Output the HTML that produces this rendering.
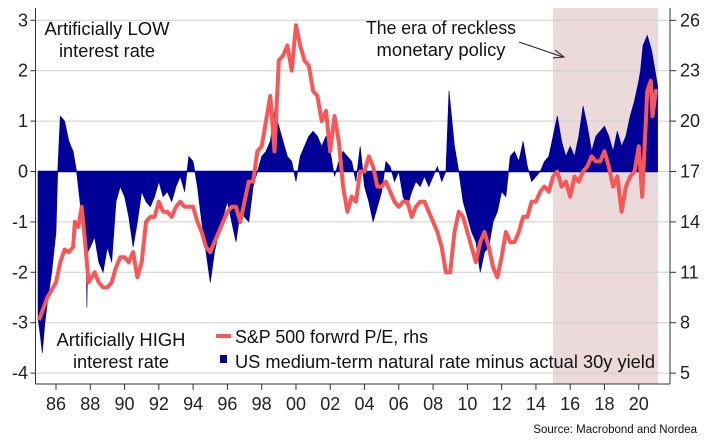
<!DOCTYPE html>
<html><head><meta charset="utf-8"><style>
body{margin:0;background:#fff;}
svg{display:block;font-family:"Liberation Sans",sans-serif;}
</style></head><body>
<svg id="chart" width="710" height="448" viewBox="0 0 710 448" xmlns="http://www.w3.org/2000/svg"></svg>
<script>
const gapYears=[1984.95,1985.1,1985.2,1985.35,1985.5,1985.75,1986.0,1986.1,1986.25,1986.5,1986.75,1987.0,1987.2,1987.5,1987.75,1987.8,1987.85,1988.0,1988.25,1988.5,1988.75,1989.0,1989.25,1989.5,1989.75,1990.0,1990.25,1990.5,1990.75,1991.0,1991.25,1991.5,1991.75,1992.0,1992.25,1992.5,1992.75,1993.0,1993.25,1993.5,1993.75,1994.0,1994.25,1994.5,1994.75,1995.0,1995.25,1995.5,1995.75,1996.0,1996.25,1996.5,1996.75,1997.0,1997.25,1997.5,1997.75,1998.0,1998.25,1998.5,1998.75,1999.0,1999.25,1999.5,1999.75,2000.0,2000.25,2000.5,2000.75,2001.0,2001.25,2001.5,2001.75,2002.0,2002.25,2002.5,2002.75,2003.0,2003.25,2003.5,2003.75,2004.0,2004.25,2004.5,2004.75,2005.0,2005.25,2005.5,2005.75,2006.0,2006.25,2006.5,2006.75,2007.0,2007.25,2007.5,2007.75,2008.0,2008.25,2008.5,2008.75,2008.93,2009.25,2009.5,2009.75,2010.0,2010.25,2010.5,2010.75,2011.0,2011.25,2011.5,2011.75,2012.0,2012.25,2012.5,2012.75,2013.0,2013.25,2013.5,2013.75,2014.0,2014.25,2014.5,2014.75,2015.0,2015.25,2015.5,2015.75,2016.0,2016.25,2016.5,2016.75,2017.0,2017.25,2017.5,2017.75,2018.0,2018.25,2018.5,2018.75,2019.0,2019.25,2019.5,2019.75,2020.0,2020.1,2020.25,2020.5,2020.75,2021.0,2021.1];
const gapValues=[-2.9,-3.3,-3.6,-3.0,-2.6,-2.0,-1.2,0,1.1,1.0,0.6,0.4,0,-0.9,-1.5,-2.7,-1.6,-1.5,-1.3,-1.8,-2.0,-1.5,-1.8,-0.6,-0.3,-0.5,-0.9,-1.5,-1.0,-0.4,-0.6,-0.7,-0.5,-0.2,-0.5,-0.4,-0.6,-0.3,-0.1,-0.4,0.3,0.2,-0.3,-1.0,-1.6,-2.2,-1.6,-1.2,-0.9,-0.6,-1.0,-1.4,-0.8,-0.9,-1.0,-0.3,0,0.3,0.4,0.6,1.2,0.9,0.6,0.3,0.2,-0.2,0.3,0.5,0.7,0.8,0.7,0.5,0.7,0.4,-0.1,0.2,0.4,0.3,0.2,-0.2,0.5,-0.3,-0.6,-1.0,-0.7,-0.4,0.2,0.1,-0.2,0.0,-0.5,-0.7,-0.4,-0.2,-0.3,-0.1,-0.3,-0.1,0.1,-0.2,0.0,1.6,0.5,0,-0.6,-0.9,-1.2,-1.4,-2.0,-1.6,-1.5,-1.0,-0.8,-0.4,-0.5,0.3,0.4,0.2,0.6,0.1,-0.2,-0.1,0.0,0.2,0.3,0.7,1.1,0.6,0.3,0.5,0.3,0.7,1.3,0.9,0.4,0.7,0.8,0.9,0.7,0.4,0.8,0.5,0.7,1.1,1.4,1.8,2.0,2.5,2.7,2.4,1.9,1.7];
const peYears=[1985.0,1985.5,1986.0,1986.25,1986.5,1986.75,1987.0,1987.1,1987.3,1987.5,1987.7,1987.9,1988.25,1988.5,1988.75,1989.0,1989.25,1989.5,1989.75,1990.0,1990.25,1990.5,1990.75,1991.0,1991.25,1991.5,1991.75,1992.0,1992.25,1992.5,1992.75,1993.0,1993.25,1993.5,1993.75,1994.0,1994.25,1994.5,1994.75,1995.0,1995.25,1995.5,1995.75,1996.0,1996.25,1996.5,1996.75,1997.0,1997.25,1997.5,1997.75,1998.0,1998.25,1998.5,1998.75,1999.0,1999.25,1999.5,1999.75,2000.0,2000.25,2000.5,2000.75,2001.0,2001.25,2001.5,2001.75,2002.0,2002.25,2002.5,2002.75,2003.0,2003.25,2003.5,2003.75,2004.0,2004.25,2004.5,2004.75,2005.0,2005.25,2005.5,2005.75,2006.0,2006.25,2006.5,2006.75,2007.0,2007.25,2007.5,2007.75,2008.0,2008.25,2008.5,2008.75,2009.0,2009.25,2009.5,2009.75,2010.0,2010.25,2010.5,2010.75,2011.0,2011.25,2011.5,2011.75,2012.0,2012.25,2012.5,2012.75,2013.0,2013.25,2013.5,2013.75,2014.0,2014.25,2014.5,2014.75,2015.0,2015.25,2015.5,2015.75,2016.0,2016.25,2016.5,2016.75,2017.0,2017.25,2017.5,2017.75,2018.0,2018.25,2018.5,2018.75,2019.0,2019.25,2019.5,2019.75,2020.0,2020.2,2020.5,2020.7,2020.8,2021.0,2021.1];
const peValues=[8.15,9.5,10.4,11.6,12.35,12.2,12.5,14,13.7,14.9,12.8,10.4,11,10.4,10.1,10.1,10.4,11.3,11.9,11.9,11.6,12.2,10.7,11.6,14,14.3,14.3,15.2,14.6,14.6,14.3,14.9,15.2,14.9,14.9,14.9,14,13.4,12.5,12.2,12.8,13.4,14,14.6,14.9,14.9,14,15.2,16.4,16.4,18.2,18.5,20,21.5,18.2,23.6,23.9,24.5,23,25.7,24.5,23.6,23.3,21.8,21.5,20,20.6,18.2,20.3,18.8,16.1,14.6,15.5,15.2,17,17,17.9,17.3,16.1,16.1,16.4,15.8,15.2,14.9,15.2,15.2,14.3,14.9,15.2,15.2,14.6,14,13.4,12.5,11,11,13.4,14.6,14.3,13.4,12.5,11.6,12.8,13.4,12.5,11.3,10.7,11.9,13.4,12.8,12.8,13.4,14.3,14.3,15.2,15.2,15.8,16.1,15.8,16.7,17,16.1,16.4,15.5,16.7,16.4,17,17.3,17.9,17.6,17.6,18.2,17.3,16.1,16.7,14.6,16.1,16.7,17,18.5,15.5,21.8,22.4,20.3,21.8,21.8];
const leftTicks=[3,2,1,0,-1,-2,-3,-4];
const rightTicks=[26,23,20,17,14,11,8,5];
const xTickLabels=["86","88","90","92","94","96","98","00","02","04","06","08","10","12","14","16","18","20"];
const xTickYears=[1986,1988,1990,1992,1994,1996,1998,2000,2002,2004,2006,2008,2010,2012,2014,2016,2018,2020];

const NS="http://www.w3.org/2000/svg";
const svg=document.getElementById('chart');
const L=35.5,R=670,T=8,B=384;
const xS=y=>56+(y-1986)*17.14;
const yL=v=>171.5-v*50.4;
const yR=v=>171.5-(v-17)/3*50.4;
function mk(tag,attrs,parent){const e=document.createElementNS(NS,tag);for(const k in attrs)e.setAttribute(k,attrs[k]);(parent||svg).appendChild(e);return e;}

let sh=mk('rect',{x:xS(2015),y:T,width:R-xS(2015)-12,height:B-T,fill:'#ecd9d9'});


leftTicks.forEach((v,i)=>{
  let g=mk('line',{x1:L,x2:R,y1:yL(v),y2:yL(v),stroke:'#cfcfcf','stroke-width':1});
  
  
  mk('line',{x1:L-5,x2:L,y1:yL(v),y2:yL(v),stroke:'#333'});
  let t=mk('text',{x:28,y:yL(v)+6,'text-anchor':'end','font-size':18,fill:'#222'});t.textContent=String(v);
  
  
});
rightTicks.forEach(v=>{
  mk('line',{x1:R,x2:R+6,y1:yR(v),y2:yR(v),stroke:'#333'});
  let t=mk('text',{x:680,y:yR(v)+6,'font-size':18,fill:'#222'});t.textContent=String(v);
  
  
});
let d='M'+xS(gapYears[0])+','+yL(0);
gapYears.forEach((y,i)=>{d+=' L'+xS(y).toFixed(1)+','+yL(gapValues[i]).toFixed(1);});
d+=' L'+xS(gapYears[gapYears.length-1])+','+yL(0)+'Z';
let area=mk('path',{d:d,fill:'#000099',stroke:'#000099','stroke-width':0.6});


let zl=mk('line',{x1:xS(1984.95),x2:xS(2021.1),y1:yL(0),y2:yL(0),stroke:'#000099','stroke-width':1.5});


let pd='';
peYears.forEach((y,i)=>{pd+=(i?' L':'M')+xS(y).toFixed(1)+','+yR(peValues[i]).toFixed(1);});
let pl=mk('path',{d:pd,fill:'none',stroke:'#f95656','stroke-width':4,'stroke-linejoin':'round'});


mk('line',{x1:L,x2:L,y1:T,y2:B,stroke:'#333'});
mk('line',{x1:R,x2:R,y1:T,y2:B,stroke:'#333'});
mk('line',{x1:L,x2:R,y1:B,y2:B,stroke:'#333'});
xTickYears.forEach((y,i)=>{
  mk('line',{x1:xS(y),x2:xS(y),y1:B,y2:B+6,stroke:'#333'});
  let t=mk('text',{x:xS(y),y:410,'text-anchor':'middle','font-size':18,fill:'#222'});t.textContent=xTickLabels[i];
  
  
});
function txt(s,x,y,w,name){let t=mk('text',{x:x-w/2,y:y,'font-size':18,fill:'#111',textLength:w,lengthAdjust:'spacingAndGlyphs'});t.textContent=s;
  
  return t;}
txt('Artificially LOW',107,35,125,'low-rate-annotation');
txt('interest rate',107,57,96,'low-rate-annotation-line2');
txt('Artificially HIGH',121,346,129,'high-rate-annotation');
txt('interest rate',121,368,96,'high-rate-annotation-line2');
txt('The era of reckless',441,34,150,'era-annotation');
txt('monetary policy',441,56,129,'era-annotation-line2');
mk('line',{x1:519,y1:42,x2:563,y2:57,stroke:'#222','stroke-width':1});
mk('path',{d:'M555,50 L564,57 L553,58',fill:'none',stroke:'#222','stroke-width':1});
let lg=mk('g',{});


mk('line',{x1:216,x2:231,y1:336,y2:336,stroke:'#f95656','stroke-width':4},lg);
let t1=mk('text',{x:235,y:343,'font-size':18,fill:'#111',textLength:193,lengthAdjust:'spacingAndGlyphs'},lg);t1.textContent='S&P 500 forwrd P/E, rhs';


mk('rect',{x:220,y:355,width:7,height:8,fill:'#000099'},lg);
let t2=mk('text',{x:235,y:368,'font-size':18,fill:'#111',textLength:420,lengthAdjust:'spacingAndGlyphs'},lg);t2.textContent='US medium-term natural rate minus actual 30y yield';


let src=mk('text',{x:697,y:433,'font-size':11.5,'text-anchor':'end',fill:'#111'});src.textContent='Source: Macrobond and Nordea';


</script>
</body></html>
